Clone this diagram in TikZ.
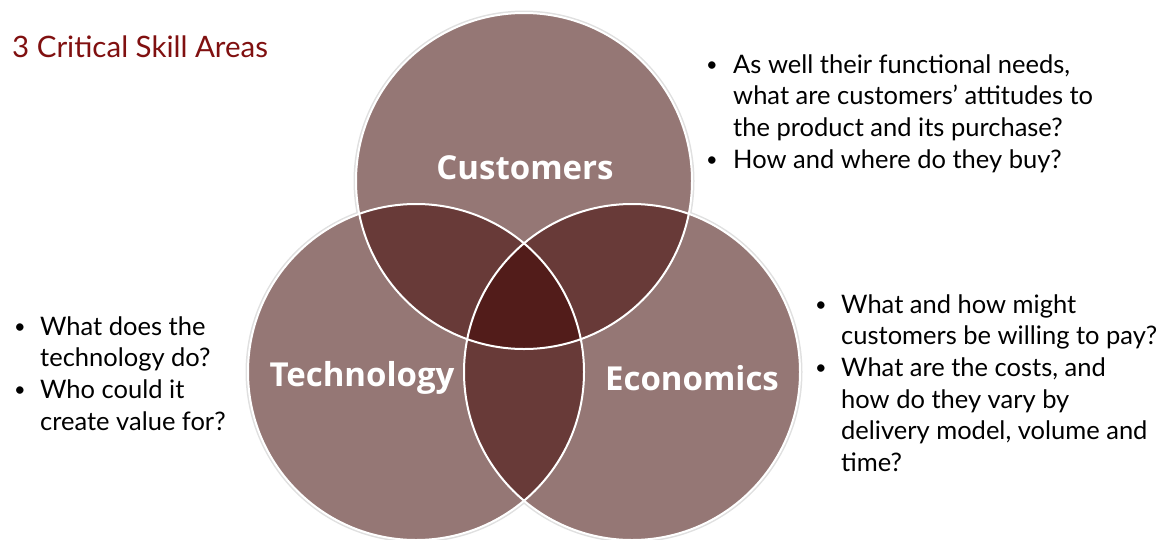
\documentclass[tikz,border=0pt]{standalone}
\usepackage{fontspec}
\setmainfont{Lato}
\newfontfamily\labelfont{Open Sans}
\definecolor{skillfill}{RGB}{149,119,117}
\definecolor{pairfill}{RGB}{104,58,56}
\definecolor{corefill}{RGB}{82,28,26}
\definecolor{titlered}{RGB}{128,16,16}
\newcommand{\blt}{{\fontsize{20}{20}\selectfont\raisebox{1.5pt}{\textbullet}}}
\begin{document}
\begin{tikzpicture}[x=1pt,y=-1pt]

  \tikzstyle{halo}=[draw=black!12,line width=5pt]
  \tikzstyle{rim}=[draw=white,line width=2pt]
  \tikzstyle{circlabel}=[text=white,font=\labelfont\fontsize{33}{33}\selectfont\bfseries,inner sep=0pt]
  \tikzstyle{notes}=[anchor=base west,inner sep=0pt,font=\fontsize{25.5}{31.7}\selectfont]

  \useasboundingbox (0,0) rectangle (1164,539);

  \foreach \name/\x/\y in {cust/524/181, tech/416/372, econ/632/372}
    \coordinate (\name) at (\x,\y);

  % shadow and base discs
  \foreach \name in {cust,tech,econ}
    \draw[halo] (\name) circle (168pt);
  \foreach \name in {cust,tech,econ}
    \fill[skillfill] (\name) circle (168pt);

  % pairwise overlaps
  \begin{scope}
    \clip (cust) circle (168pt);
    \fill[pairfill] (tech) circle (168pt);
    \fill[pairfill] (econ) circle (168pt);
  \end{scope}
  \begin{scope}
    \clip (tech) circle (168pt);
    \fill[pairfill] (econ) circle (168pt);
  \end{scope}

  % centre
  \begin{scope}
    \clip (cust) circle (168pt);
    \clip (tech) circle (168pt);
    \fill[corefill] (econ) circle (168pt);
  \end{scope}

  \foreach \name in {cust,tech,econ}
    \draw[rim] (\name) circle (168pt);

  \foreach \name/\x/\y/\text in {cust/525/168/Customers, tech/362/378/Technology,
                                 econ/692/378/Economics}
    \node[circlabel] (\name-label) at (\x,\y) {\text};

  \node[anchor=base west,inner sep=0pt,text=titlered,font=\fontsize{29.5}{29.5}\selectfont]
    (title) at (12,57) {3 Critical Skill Areas};

  \node[notes] (cust-notes) at (706,73) {%
    \begin{tabular}[t]{@{}p{27pt}@{}l@{}}
      \blt & As well their functional needs,\\
           & what are customers’ attitudes to\\
           & the product and its purchase?\\
      \blt & How and where do they buy?
    \end{tabular}};

  \node[notes] (tech-notes) at (14,335) {%
    \begin{tabular}[t]{@{}p{26pt}@{}l@{}}
      \blt & What does the\\
           & technology do?\\
      \blt & Who could it\\
           & create value for?
    \end{tabular}};

  \node[notes] (econ-notes) at (815,313) {%
    \begin{tabular}[t]{@{}p{26pt}@{}l@{}}
      \blt & What and how might\\
           & customers be willing to pay?\\
      \blt & What are the costs, and\\
           & how do they vary by\\
           & delivery model, volume and\\
           & time?
    \end{tabular}};
\end{tikzpicture}
\end{document}
